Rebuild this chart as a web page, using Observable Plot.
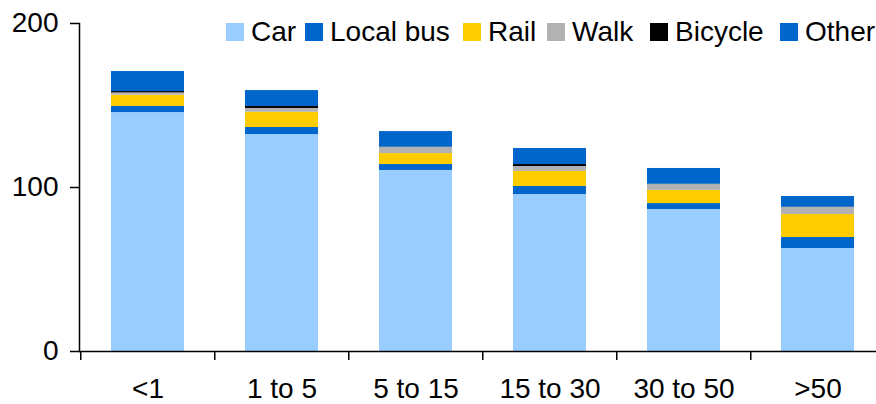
<!DOCTYPE html>
<html>
<head>
<meta charset="utf-8">
<script src="https://cdn.jsdelivr.net/npm/d3@7"></script>
<script src="https://cdn.jsdelivr.net/npm/@observablehq/plot@0.6"></script>
<style>
  html, body { margin: 0; padding: 0; background: #fff; }
  #wrap { position: relative; width: 876px; height: 404px; overflow: hidden; font-family: "Liberation Sans", Arial, sans-serif; }
  #legend .item { position: absolute; top: 32px; height: 0; display: flex; align-items: center; font-size: 28px; line-height: 1; color: #000; white-space: nowrap; }
  #legend .sw { width: 18px; height: 18px; margin-right: 7px; display: inline-block; }
</style>
</head>
<body>
<div id="wrap"></div>
<script>
const categories = ["<1", "1 to 5", "5 to 15", "15 to 30", "30 to 50", ">50"];
const modes = ["Car", "Local bus", "Rail", "Walk", "Bicycle", "Other"];
const colors = ["#99CCFF", "#0066CC", "#FFCC00", "#B2B2B2", "#000000", "#0066CC"];
const car      = [145.7, 132.3, 110.4, 95.7, 86.6, 62.8];
const localBus = [3.7, 4.3, 3.6, 4.9, 3.6, 6.7];
const rail     = [6.9, 9.3, 6.7, 9.2, 8.0, 14.0];
const walk     = [1.4, 2.3, 3.7, 3.0, 3.6, 4.3];
const bicycle  = [0.8, 1.2, 0.2, 1.2, 0.2, 0.2];
const other    = [12.2, 9.7, 9.5, 9.8, 9.6, 6.5];
const yTicks = [0, 100, 200];

// legend item left edges (layout)
const legendLeft = [226, 305, 463, 547, 650, 780];

const series = [car, localBus, rail, walk, bicycle, other];
const data = [];
categories.forEach((c, i) => {
  modes.forEach((m, j) => data.push({cat: c, mode: m, value: series[j][i]}));
});

const W = 876, H = 404, mL = 79, mR = -10;
const step = (W - mL - mR) / categories.length;

const chart = Plot.plot({
  width: W,
  height: H,
  marginTop: 23,
  marginBottom: 53,
  marginLeft: mL,
  marginRight: mR,
  style: {fontFamily: "'Liberation Sans', Arial, sans-serif", fontSize: "28px", color: "#000", background: "#fff", overflow: "visible"},
  x: {domain: categories, paddingInner: 0.4535, paddingOuter: 0.2268, label: null},
  y: {domain: [0, 200], label: null},
  color: {domain: modes, range: colors},
  marks: [
    Plot.barY(data, {x: "cat", y: "value", fill: "mode", order: modes}),
    Plot.frame({anchor: "left", stroke: "#000", strokeWidth: 1.5}),
    Plot.ruleY([0], {stroke: "#000", strokeWidth: 1.5}),
    Plot.axisY({ticks: yTicks, tickSize: 9, tickPadding: 12, strokeWidth: 1.5, label: null, fontSize: 28}),
    Plot.axisX({tickSize: 0, tickPadding: 27, label: null, fontSize: 28}),
    Plot.axisX({tickSize: 9, text: null, dx: -step / 2, strokeWidth: 1.5, label: null})
  ]
});

const wrap = document.getElementById("wrap");
wrap.appendChild(chart);

const legend = document.createElement("div");
legend.id = "legend";
modes.forEach((m, j) => {
  const item = document.createElement("div");
  item.className = "item";
  item.style.left = legendLeft[j] + "px";
  const sw = document.createElement("span");
  sw.className = "sw";
  sw.style.background = colors[j];
  const t = document.createElement("span");
  t.textContent = m;
  item.appendChild(sw);
  item.appendChild(t);
  legend.appendChild(item);
});
wrap.appendChild(legend);
</script>
</body>
</html>
